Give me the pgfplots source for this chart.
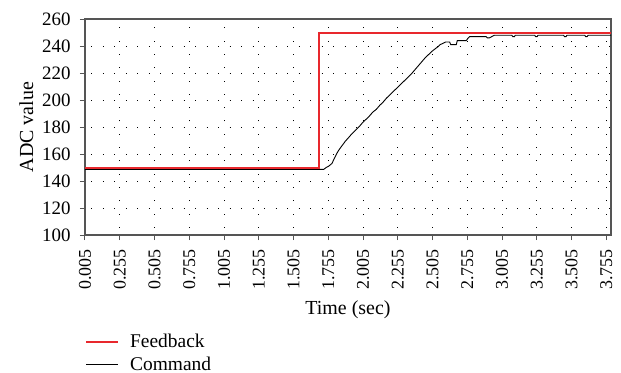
\documentclass[border=0pt]{standalone}
\usepackage{fontspec}
\setmainfont{Liberation Serif}
\usepackage{pgfplots}
\pgfplotsset{compat=1.18}
\definecolor{fbred}{RGB}{232,40,45}
\definecolor{framegray}{RGB}{85,85,85}
\begin{document}
\begin{tikzpicture}
\begin{axis}[
  scale only axis,
  width=526bp, height=216bp,
  xmin=0.005, xmax=3.789,
  ymin=100, ymax=260,
  xtick={0.005,0.255,0.505,0.755,1.005,1.255,1.505,1.755,2.005,2.255,2.505,2.755,3.005,3.255,3.505,3.755},
  ytick={100,120,...,260},
  /pgf/number format/assume math mode=true,
  xticklabel style={rotate=90, anchor=east, font=\fontsize{18}{20}\selectfont,
    /pgf/number format/.cd, fixed, fixed zerofill, precision=3},
  yticklabel style={font=\fontsize{19}{21}\selectfont, /pgf/number format/.cd, fixed, precision=0},
  xticklabel shift=6bp,
  yticklabel shift=6bp,
  label style={font=\fontsize{20}{22}\selectfont},
  xlabel={Time (sec)},
  ylabel={ADC value},
  xlabel style={yshift=-4bp},
  ylabel style={yshift=2bp},
  axis line style={framegray, line width=1.3bp},
  tick style={framegray, line width=1bp},
  tick align=outside,
  xtick pos=bottom, ytick pos=left,
  major tick length=5bp,
  grid=major,
  x grid style={black, line width=0.9bp, dash pattern=on 0.9bp off 12.4bp, dash phase=6bp},
  y grid style={black, line width=0.9bp, dash pattern=on 0.9bp off 10.6bp, dash phase=5bp},
  legend style={at={(0,0)}, anchor=north west, yshift=-97bp, draw=none, fill=none, inner sep=0pt,
    font=\fontsize{19.5}{22}\selectfont, row sep=3.5bp, cells={anchor=west}},
  legend cell align=left,
  reverse legend,
  legend image code/.code={\draw[#1] (0bp,0bp) -- (32bp,0bp); \path[draw=none] (0bp,0bp) -- (42bp,0bp);},
]
\addplot[black, line width=0.9bp] coordinates {
(0.005,148.6) (1.722,148.6) (1.740,150) (1.758,151) (1.770,152) (1.782,153)
(1.795,156) (1.810,159) (1.825,162) (1.842,164.5) (1.860,167) (1.878,169.5)
(1.900,172) (1.925,175) (1.950,177.5) (1.975,180) (2.000,183) (2.025,185.5)
(2.050,188) (2.075,191) (2.100,193) (2.125,196) (2.150,198.5) (2.175,201.5)
(2.200,204) (2.225,206.5) (2.250,209) (2.275,211.5) (2.300,214) (2.325,216.5)
(2.350,219) (2.375,222) (2.400,225) (2.425,228) (2.450,231) (2.475,233.5)
(2.500,236) (2.525,238) (2.545,239.5) (2.560,241) (2.580,242) (2.600,243)
(2.628,243) (2.636,241) (2.676,241) (2.683,244) (2.748,244) (2.758,245.5)
(2.772,247) (2.890,247) (2.900,246) (2.914,246) (2.950,248)
(3.075,248) (3.082,247) (3.095,247) (3.100,248)
(3.240,248) (3.246,247) (3.258,247) (3.264,248)
(3.448,248) (3.454,247) (3.466,247) (3.472,248)
(3.600,248) (3.606,247) (3.618,247) (3.624,248)
(3.789,248)
};
\addlegendentry{Command}
\addplot[fbred, line width=2bp] coordinates {
(0.005,150) (1.690,150) (1.690,250) (3.789,250)
};
\addlegendentry{Feedback}
\coordinate (ll) at (rel axis cs:0,0);
\coordinate (ur) at (rel axis cs:1,1);
\end{axis}
\pgfresetboundingbox
\path ([shift={(-85bp,-138bp)}]ll) rectangle ([shift={(10bp,19bp)}]ur);
\end{tikzpicture}
\end{document}
